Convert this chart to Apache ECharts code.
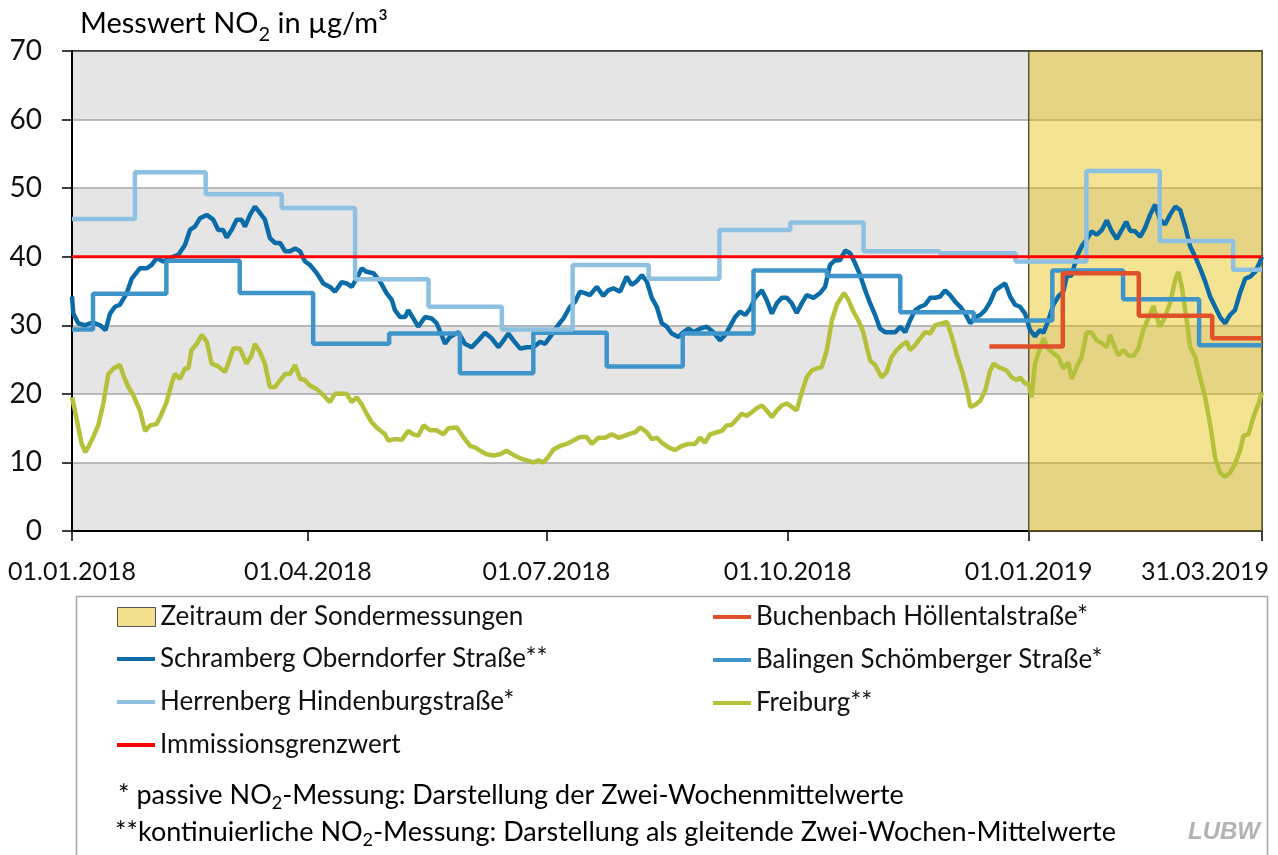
<!DOCTYPE html>
<html>
<head>
<meta charset="utf-8">
<title>NO2 Messwerte</title>
<script src="https://cdn.jsdelivr.net/npm/echarts@6/dist/echarts.min.js"></script>
<style>
  html, body { margin: 0; padding: 0; background: #fff; }
  #chart-container { width: 1278px; height: 855px; }
</style>
</head>
<body>
<div id="chart-container"></div>
<script>
var dom = document.getElementById("chart-container");
var myChart = echarts.init(dom, null, { renderer: "canvas" });

// x values are days since 01.01.2018
var startDate = "2018-01-01";
var endDate = "2019-03-31";
var tickDates = ["2018-01-01", "2018-04-01", "2018-07-01", "2018-10-01", "2019-01-01", "2019-03-31"];
var campaign = ["2019-01-01", "2019-03-31"];
var limitValue = 40;

// passive two-week means: [start day, value]
var herrenberg = [
  [0, 45.5], [24, 52.3], [51, 49.1], [80, 47.1], [108, 36.7], [136, 32.7], [164, 29.4],
  [191, 38.8], [220, 36.8], [247, 43.9], [274, 45.0], [302, 40.8], [331, 40.5], [360, 39.3],
  [387, 52.5], [415, 42.3], [443, 38.1], [454, 38.1]
];
var balingen = [
  [0, 29.4], [8, 34.6], [36, 39.4], [64, 34.7], [92, 27.3], [121, 28.8], [148, 23.0],
  [176, 28.9], [204, 24.0], [233, 28.8], [260, 38.0], [288, 37.2], [316, 31.9], [344, 30.7],
  [374, 38.0], [401, 33.8], [430, 27.1], [454, 27.1]
];
var buchenbach = [
  [350, 26.9], [378, 37.6], [407, 31.4], [435, 28.1], [454, 28.1]
];

// continuous, moving two-week means: [day, value]
var schramberg = [
  [0, 34.2], [0.5, 31.7], [2.4, 30.3], [5, 30.0], [6.9, 30.3], [8.8, 30.3], [10.7, 30.0], [12.8, 29.3],
  [14.5, 31.7], [16.4, 32.7], [18.3, 33.0], [20.9, 34.7], [22.8, 36.8], [25.9, 38.3], [28.5, 38.3],
  [30.4, 38.8], [32.3, 39.8], [34.8, 39.3], [37.4, 39.8], [40.6, 40.3], [43.1, 41.7], [45.0, 43.9],
  [46.9, 44.4], [48.8, 45.6], [51.4, 46.1], [53.9, 45.4], [55.8, 43.9], [57.7, 43.9], [59.0, 42.8],
  [60.9, 43.9], [62.8, 45.4], [64.7, 45.4], [66.0, 44.4], [67.9, 46.1], [69.8, 47.3], [71.7, 46.4],
  [73.6, 45.4], [75.5, 42.7], [77.5, 42.0], [79.4, 42.0], [81.3, 40.8], [83.2, 40.8], [85.1, 41.2],
  [87.0, 40.8], [88.9, 39.3], [90.8, 38.8], [93.4, 37.6], [95.9, 36.1], [98.4, 35.6], [100.3, 34.9],
  [102.9, 36.3], [104.8, 36.1], [106.7, 35.6], [108.6, 36.8], [110.5, 38.3], [112.4, 37.8], [115, 37.6],
  [117.5, 36.4], [120.0, 34.7], [122.0, 33.7], [123.2, 32.2], [125.2, 31.2], [127.1, 31.2], [128.3, 32.2],
  [130.2, 31.0], [132.1, 29.8], [134.7, 31.2], [137.2, 31.0], [139.1, 30.3], [141.0, 28.6], [142.3, 27.3],
  [144.2, 28.3], [147.4, 29.0], [149.9, 27.3], [152.5, 26.8], [155.0, 27.8], [157.6, 28.9], [160.1, 28.1],
  [162.7, 26.8], [165.2, 28.1], [166.5, 28.8], [168.4, 27.8], [171.0, 26.6], [173.5, 26.8], [176.0, 26.8],
  [178.6, 27.6], [180.5, 27.3], [182.4, 28.3], [185.0, 29.8], [187.5, 31.0], [190.0, 32.7], [191.9, 33.4],
  [193.8, 34.9], [195.7, 34.7], [197.6, 34.4], [200.2, 35.6], [202.7, 34.3], [204.6, 35.1], [206.5, 35.4],
  [209.1, 34.9], [211.6, 37.1], [213.5, 35.9], [215.4, 36.4], [217.4, 37.3], [219.3, 36.4], [221.2, 34.0],
  [223.1, 32.7], [225.0, 30.3], [226.9, 29.8], [228.8, 28.8], [231.4, 28.3], [233.3, 29.0], [235.2, 29.5],
  [237.1, 29.0], [239.6, 29.5], [242.2, 29.8], [244.7, 29.0], [247.2, 27.8], [249.2, 28.6], [251.0, 29.8],
  [253.0, 31.2], [254.9, 32.0], [256.8, 31.5], [258.7, 32.4], [260.6, 34.0], [263.2, 35.1], [265.0, 33.7],
  [267.0, 31.7], [268.9, 33.2], [270.8, 34.0], [272.7, 34.0], [274.6, 33.2], [276.5, 31.8], [278.4, 33.2],
  [280.3, 34.4], [282.9, 34.0], [285.4, 34.7], [287.3, 35.6], [289.2, 38.8], [291.1, 39.5], [293.0, 39.5],
  [295.0, 40.9], [296.9, 40.5], [298.8, 39.0], [300.7, 37.3], [302.6, 35.1], [304.5, 33.2], [306.4, 31.5],
  [308.3, 29.5], [310.2, 29.0], [312.1, 29.0], [314.1, 29.0], [316.0, 29.8], [317.9, 29.0], [319.7, 30.7],
  [321.7, 32.2], [323.6, 32.7], [325.5, 33.0], [327.4, 34.0], [329.3, 34.0], [331.2, 34.2], [333.1, 35.1],
  [335.0, 34.4], [337.0, 33.4], [338.9, 32.7], [340.8, 31.7], [342.7, 30.3], [344.6, 31.2], [346.5, 31.5],
  [348.4, 32.2], [350.3, 33.4], [352.2, 35.1], [354.1, 35.6], [356.0, 36.1], [357.9, 34.2], [359.8, 33.0],
  [361.7, 32.7], [363.6, 31.7], [365.5, 29.3], [367.4, 28.4], [369.3, 29.3], [370.6, 28.9], [372.5, 30.7],
  [374.4, 33.0], [376.3, 34.2], [378.2, 34.9], [379.5, 37.1], [381.4, 37.3], [383.3, 40.0], [385.2, 41.5],
  [387.1, 42.5], [389.0, 43.7], [390.9, 43.2], [392.9, 43.9], [394.8, 45.3], [396.7, 43.7], [398.6, 42.6],
  [400.5, 43.9], [402.2, 45.1], [403.7, 43.8], [405.6, 43.7], [407.5, 42.9], [409.4, 44.2], [411.3, 46.1],
  [413.2, 47.6], [415.1, 45.4], [417.0, 44.7], [418.9, 46.1], [420.9, 47.3], [422.8, 46.8], [424.7, 44.4],
  [426.6, 41.5], [428.5, 40.0], [430.4, 38.3], [432.3, 36.4], [434.2, 34.2], [436.1, 32.7], [438.0, 31.2],
  [439.9, 30.3], [441.8, 31.5], [443.7, 32.2], [445.6, 34.7], [447.6, 36.8], [449.5, 37.1], [451.4, 37.8],
  [453.3, 39.3], [454, 40.0]
];
var freiburg = [
  [0, 19.5], [1.1, 17.6], [2.4, 15.1], [3.7, 12.7], [5.0, 11.5], [6.2, 12.2], [8.1, 13.7], [10.0, 15.4],
  [11.9, 18.5], [13.9, 22.9], [15.8, 23.7], [18.3, 24.2], [19.6, 22.7], [21.5, 21.0], [23.4, 19.8],
  [25.9, 17.6], [27.9, 14.6], [29.8, 15.4], [32.3, 15.6], [34.2, 17.1], [36.1, 18.8], [38.0, 21.5],
  [39.3, 22.9], [41.2, 22.2], [43.1, 23.7], [44.4, 23.7], [45.6, 26.4], [47.6, 27.3], [49.5, 28.6],
  [51.4, 27.6], [53.3, 24.4], [55.8, 24.0], [58.4, 23.2], [59.6, 24.4], [61.5, 26.6], [64.1, 26.6],
  [66.6, 24.4], [68.5, 25.6], [69.8, 27.3], [71.7, 26.1], [73.6, 24.4], [75.5, 21.0], [77.5, 21.0],
  [79.4, 22.0], [81.3, 22.9], [83.2, 22.9], [85.1, 24.2], [87.0, 22.2], [88.9, 22.0], [90.8, 21.2],
  [93.4, 20.7], [95.9, 19.8], [98.4, 18.8], [100.3, 20.0], [102.9, 20.0], [104.8, 20.0], [106.7, 18.8],
  [108.6, 19.5], [110.5, 18.5], [112.4, 17.1], [114.3, 15.9], [116.2, 15.1], [119.4, 14.1], [120.7, 13.2],
  [123.2, 13.4], [125.8, 13.3], [128.3, 14.6], [130.2, 14.1], [132.1, 13.9], [134.1, 15.4], [136.6, 14.7],
  [139.1, 14.7], [141.7, 14.1], [143.6, 15.0], [146.8, 15.1], [149.3, 13.7], [151.9, 12.4], [153.8, 12.2],
  [155.7, 11.7], [158.2, 11.2], [160.8, 11.0], [163.3, 11.2], [165.8, 11.7], [168.4, 11.1], [171.0, 10.6],
  [173.5, 10.3], [176.0, 10.0], [178.0, 10.3], [179.9, 10.0], [181.7, 10.8], [183.7, 11.9], [186.2, 12.4],
  [188.7, 12.7], [191.3, 13.2], [193.8, 13.7], [196.4, 13.7], [198.3, 12.7], [200.8, 13.6], [203.4, 13.6],
  [205.9, 14.1], [208.5, 13.6], [211.0, 13.9], [213.0, 14.2], [214.9, 14.4], [216.8, 15.1], [219.3, 14.4],
  [221.2, 13.4], [223.1, 13.6], [225.0, 12.9], [227.6, 12.2], [230.1, 11.8], [232.6, 12.4], [235.2, 12.7],
  [237.7, 12.7], [239.6, 13.6], [241.5, 12.9], [243.4, 14.1], [246.0, 14.4], [247.9, 14.6], [249.8, 15.4],
  [251.7, 15.5], [253.6, 16.3], [255.5, 17.1], [257.4, 16.8], [259.3, 17.3], [261.2, 17.9], [263.2, 18.3],
  [265.0, 17.6], [267.0, 16.6], [268.9, 17.6], [270.8, 18.3], [272.7, 18.6], [274.6, 18.1], [276.5, 17.6],
  [278.4, 20.2], [280.3, 22.4], [282.2, 23.4], [284.1, 23.7], [286.0, 23.9], [288.0, 26.4], [289.9, 30.7],
  [291.8, 33.0], [293.7, 34.2], [294.6, 34.7], [296.2, 33.7], [298.1, 32.0], [300.0, 30.7], [301.9, 29.0],
  [303.2, 26.8], [304.5, 24.9], [306.4, 24.2], [308.9, 22.4], [310.8, 23.2], [312.7, 25.4], [314.7, 26.4],
  [316.6, 27.1], [318.5, 27.6], [319.7, 26.4], [321.7, 27.1], [323.6, 28.1], [325.5, 29.0], [327.4, 28.8],
  [329.3, 30.0], [331.2, 30.2], [333.8, 30.5], [335.7, 28.3], [337.6, 25.6], [339.5, 23.4], [341.5, 20.5],
  [342.7, 18.1], [344.6, 18.4], [346.5, 19.0], [348.4, 20.5], [350.3, 23.4], [351.6, 24.4], [353.5, 23.9],
  [356.6, 23.4], [358.5, 22.4], [360.4, 22.0], [361.7, 22.4], [363.6, 21.5], [364.9, 21.5], [366.1, 19.5],
  [367.4, 24.4], [368.7, 25.9], [370.6, 28.1], [372.5, 26.6], [374.4, 25.9], [376.3, 25.4], [378.2, 23.7],
  [380.1, 24.6], [381.4, 22.2], [383.3, 23.9], [385.2, 25.4], [387.1, 29.0], [389.0, 28.9], [390.9, 27.8],
  [392.9, 27.4], [394.8, 26.8], [396.0, 28.6], [397.3, 27.3], [399.2, 25.6], [401.1, 26.4], [403.0, 25.6],
  [404.9, 25.5], [406.8, 26.6], [408.7, 29.3], [410.6, 31.0], [412.6, 32.8], [413.8, 31.2], [415.1, 29.8],
  [417.0, 31.2], [418.9, 33.2], [420.9, 36.6], [422.1, 37.8], [423.4, 35.6], [425.3, 30.7], [426.6, 26.8],
  [428.5, 25.4], [430.4, 22.4], [432.3, 19.5], [434.2, 15.6], [436.1, 10.7], [438.0, 8.5], [439.9, 7.9],
  [441.8, 8.5], [443.7, 9.8], [445.6, 11.7], [446.9, 13.9], [448.8, 14.1], [450.7, 16.6], [452.6, 18.5],
  [454, 20.2]
];

var DAY = 86400000;
function toDate(s) {
  var p = s.split("-").map(Number);
  return Date.UTC(p[0], p[1] - 1, p[2]);
}
var base = toDate(startDate);
function toDay(s) { return Math.round((toDate(s) - base) / DAY); }
function pad(n) { return n < 10 ? "0" + n : "" + n; }
var tickDays = tickDates.map(toDay);
var lastDay = toDay(endDate);

var FONT = "Lato";
var gridColors = ["#a6a6a6", "#a6a6a6", "#a6a6a6", "#a6a6a6", "#a6a6a6", "#a6a6a6", "#a6a6a6", "#333333"];

var sub = function (size, lh) {
  return {
    n: { fontSize: size, lineHeight: lh, verticalAlign: "top", fontFamily: FONT, color: "#111" },
    s: { fontSize: Math.round(size * 0.68), lineHeight: Math.round(lh * 0.42), verticalAlign: "bottom", fontFamily: FONT, color: "#111" }
  };
};

function lineItem(name, color) {
  return { name: name, icon: "rect", itemStyle: { color: color, borderWidth: 0 } };
}

var colors = {
  schramberg: "#0c6ca8",
  balingen: "#3f95ca",
  herrenberg: "#8ec0e1",
  buchenbach: "#e0502b",
  freiburg: "#b5c03b",
  limit: "#ff0000"
};

var legendText = { fontSize: 26, lineHeight: 30, fontFamily: FONT, color: "#111" };

var option = {
  animation: false,
  backgroundColor: "#ffffff",
  textStyle: { fontFamily: FONT },
  grid: {
    left: 72, right: 16, top: 51, bottom: 324,
    show: true, borderColor: "#333333", borderWidth: 1.5, backgroundColor: "transparent"
  },
  xAxis: {
    type: "value",
    min: 0,
    max: lastDay,
    axisLine: { lineStyle: { color: "#000", width: 2 } },
    axisTick: { show: true, customValues: tickDays, length: 10, lineStyle: { color: "#000", width: 1.5 } },
    axisLabel: {
      customValues: tickDays,
      margin: 28,
      fontSize: 25,
      fontFamily: FONT,
      color: "#111",
      formatter: function (v) {
        var d = new Date(base + v * DAY);
        var s = pad(d.getUTCDate()) + "." + pad(d.getUTCMonth() + 1) + "." + d.getUTCFullYear();
        return v === lastDay ? "{r|" + s + "}" : s;
      },
      rich: { r: { fontSize: 25, fontFamily: FONT, color: "#111", padding: [0, 114, 0, 0] } }
    },
    splitLine: { show: false }
  },
  yAxis: {
    type: "value",
    min: 0,
    max: 70,
    interval: 10,
    axisLine: { show: true, lineStyle: { color: "#000", width: 2 } },
    axisTick: { show: true, length: 10, lineStyle: { color: "#000", width: 1.5 } },
    axisLabel: { fontSize: 28, fontFamily: FONT, color: "#111", margin: 30 },
    splitLine: { show: true, lineStyle: { color: gridColors, width: 1.5 } },
    splitArea: { show: true, areaStyle: { color: ["#e5e5e5", "#ffffff"] } }
  },
  legend: [
    {
      orient: "vertical", left: 112, top: 597, itemWidth: 38, itemHeight: 19, itemGap: 13,
      selectedMode: false,
      textStyle: legendText,
      data: [{
        name: "Zeitraum der Sondermessungen", icon: "rect",
        itemStyle: { color: "#f3e08e", borderColor: "#555", borderWidth: 1 }
      }]
    },
    {
      orient: "vertical", left: 112, top: 639, itemWidth: 38, itemHeight: 4, itemGap: 13,
      selectedMode: false,
      textStyle: legendText,
      data: [
        lineItem("Schramberg Oberndorfer Straße**", colors.schramberg),
        lineItem("Herrenberg Hindenburgstraße*", colors.herrenberg),
        lineItem("Immissionsgrenzwert", colors.limit)
      ]
    },
    {
      orient: "vertical", left: 708, top: 597, itemWidth: 38, itemHeight: 4, itemGap: 13,
      selectedMode: false,
      textStyle: legendText,
      data: [
        lineItem("Buchenbach Höllentalstraße*", colors.buchenbach),
        lineItem("Balingen Schömberger Straße*", colors.balingen),
        lineItem("Freiburg**", colors.freiburg)
      ]
    }
  ],
  graphic: [
    {
      type: "rect", left: 74, top: 594, silent: true,
      shape: { width: 1191, height: 300 },
      style: { fill: "none", stroke: "#a6a6a6", lineWidth: 1.5 }
    },
    {
      type: "text", left: 80, top: 9, silent: true,
      style: { text: "{n|Messwert NO}{s|2}{n| in µg/m³}", rich: sub(29, 36) }
    },
    {
      type: "text", left: 118, top: 782, silent: true,
      style: { text: "{n|* passive NO}{s|2}{n|-Messung: Darstellung der Zwei-Wochenmittelwerte}", rich: sub(27, 30) }
    },
    {
      type: "text", left: 115, top: 819, silent: true,
      style: { text: "{n|**kontinuierliche NO}{s|2}{n|-Messung: Darstellung als gleitende Zwei-Wochen-Mittelwerte}", rich: sub(27, 30) }
    },
    {
      type: "text", left: 1188, top: 820, silent: true,
      style: { text: "LUBW", fontSize: 24, fontStyle: "italic", fontWeight: "bold", fontFamily: "Liberation Sans", fill: "#b3b3b3" }
    }
  ],
  series: [
    {
      name: "Zeitraum der Sondermessungen",
      type: "line",
      data: [],
      z: 1,
      markArea: {
        silent: true,
        itemStyle: { color: "rgba(231,188,0,0.42)", borderColor: "#5b5530", borderWidth: 1.5 },
        data: [[{ xAxis: toDay(campaign[0]) }, { xAxis: toDay(campaign[1]) }]]
      }
    },
    {
      name: "Freiburg**", type: "line", symbol: "none",
      data: freiburg,
      itemStyle: { color: colors.freiburg },
      lineStyle: { color: colors.freiburg, width: 4.5 }
    },
    {
      name: "Schramberg Oberndorfer Straße**", type: "line", symbol: "none",
      data: schramberg,
      itemStyle: { color: colors.schramberg },
      lineStyle: { color: colors.schramberg, width: 4.5 }
    },
    {
      name: "Balingen Schömberger Straße*", type: "line", symbol: "none", step: "end",
      data: balingen,
      itemStyle: { color: colors.balingen },
      lineStyle: { color: colors.balingen, width: 4.5 }
    },
    {
      name: "Herrenberg Hindenburgstraße*", type: "line", symbol: "none", step: "end",
      data: herrenberg,
      itemStyle: { color: colors.herrenberg },
      lineStyle: { color: colors.herrenberg, width: 4.5 }
    },
    {
      name: "Buchenbach Höllentalstraße*", type: "line", symbol: "none", step: "end",
      data: buchenbach,
      itemStyle: { color: colors.buchenbach },
      lineStyle: { color: colors.buchenbach, width: 4.5 }
    },
    {
      name: "Immissionsgrenzwert", type: "line", symbol: "none",
      data: [[0, limitValue], [lastDay, limitValue]],
      itemStyle: { color: colors.limit },
      lineStyle: { color: colors.limit, width: 3 }
    }
  ]
};

myChart.setOption(option);
window.addEventListener("resize", myChart.resize);
</script>
</body>
</html>
